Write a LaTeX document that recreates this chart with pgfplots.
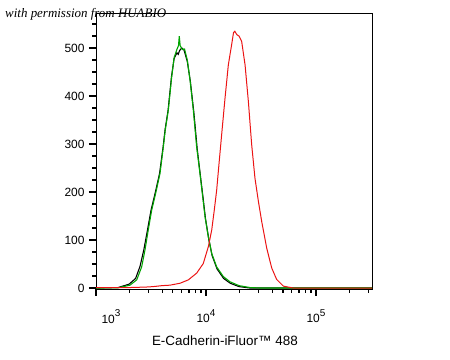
\documentclass[border=0pt]{standalone}
\usepackage{pgfplots}
\pgfplotsset{compat=1.18}
\usepackage{fontspec}
\setmainfont{Liberation Sans}
\newfontfamily\wmfont{Liberation Serif}
\definecolor{fgreen}{RGB}{0,165,0}
\definecolor{fred}{RGB}{235,20,20}
\newcommand{\pw}[1]{10\raisebox{0.55em}{\fontsize{10}{10}\selectfont #1}}
\begin{document}
\begin{tikzpicture}
\useasboundingbox (0,0) rectangle (450bp,360bp);
\begin{axis}[
  at={(96bp,71bp)}, anchor=south west,
  scale only axis, width=276bp, height=275.5bp,
  xmin=3, xmax=5.509, ymin=-2, ymax=572,
  axis line style={line width=1bp},
  xtick={3,4,5},
  xticklabels={\hspace*{30bp}\pw{3},\pw{4},\pw{5}},
  minor xtick={3.301,3.477,3.602,3.699,3.778,3.845,3.903,3.954,4.301,4.477,4.602,4.699,4.778,4.845,4.903,4.954,5.301,5.477},
  ytick={0,100,200,300,400,500},
  minor ytick={25,50,75,125,150,175,225,250,275,325,350,375,425,450,475,525,550},
  tick align=outside, xtick pos=bottom, ytick pos=left,
  major tick length=7bp, minor tick length=4bp,
  every tick/.style={line width=1.2bp, black},
  /pgf/number format/assume math mode=true,
  tick label style={font=\fontsize{12}{12}\selectfont},
  xticklabel style={yshift=-10bp},
  yticklabel style={xshift=-1bp},
  xlabel={E-Cadherin-iFluor\texttrademark\ 488},
  xlabel style={font=\fontsize{13.5}{13.5}\selectfont, at={(axis description cs:0.467,-0.189)}, anchor=center},
  clip=true,
]
\addplot[black, line width=1.1bp] coordinates {
(3.000,0) (3.200,1) (3.300,8) (3.360,20) (3.400,45) (3.435,80) (3.468,121) (3.500,162)
(3.540,200) (3.578,239) (3.610,294) (3.628,330) (3.655,370) (3.686,440) (3.710,478)
(3.735,490) (3.748,487) (3.760,495) (3.780,500) (3.800,496) (3.830,472) (3.858,430)
(3.890,365) (3.920,290) (3.950,232) (3.975,185) (3.995,145) (4.025,102) (4.055,68)
(4.100,40) (4.160,20) (4.220,10) (4.300,3) (4.400,0) (5.509,0)
};
\addplot[fgreen, line width=1.1bp] coordinates {
(3.000,0) (3.200,0.5) (3.309,6) (3.370,17) (3.415,44) (3.445,79) (3.475,121) (3.506,162)
(3.545,200) (3.582,239) (3.612,294) (3.630,330) (3.657,370) (3.688,440) (3.710,480)
(3.735,497) (3.750,505) (3.757,525) (3.765,505) (3.785,497) (3.805,498) (3.830,475)
(3.855,433) (3.885,370) (3.915,294) (3.945,239) (3.970,190) (3.991,149) (4.021,107)
(4.052,72) (4.097,44) (4.157,24) (4.218,13) (4.300,5) (4.400,1) (4.500,0) (5.509,0)
};
\addplot[fred, line width=1bp] coordinates {
(3.000,1) (3.300,1) (3.450,2) (3.521,3) (3.600,5) (3.673,6) (3.764,10) (3.839,17)
(3.915,31) (3.975,51) (4.021,86) (4.052,121) (4.075,162) (4.097,204) (4.112,243)
(4.142,319) (4.173,396) (4.203,465) (4.233,507) (4.250,532) (4.262,535) (4.280,528)
(4.300,525) (4.324,514) (4.355,465) (4.385,389) (4.415,299) (4.445,229) (4.476,181)
(4.506,139) (4.552,83) (4.597,42) (4.642,18) (4.703,4) (4.794,0) (5.509,0)
};
\end{axis}
\node[anchor=base west, inner sep=0pt, font=\wmfont\itshape\fontsize{13}{13}\selectfont] at (5bp,342bp) {with permission from HUABIO};
\end{tikzpicture}
\end{document}
